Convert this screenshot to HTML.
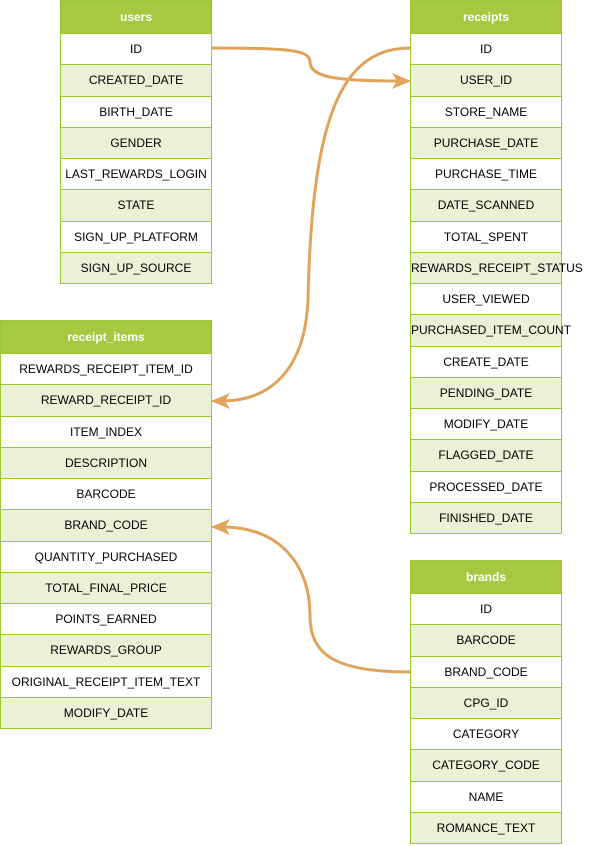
<!DOCTYPE html><html><head><style>
body{margin:0;width:602px;height:846px;background:#fff;position:relative;font-family:"Liberation Sans",Arial,sans-serif;font-size:12px;color:#000;overflow:hidden}
.t{position:absolute;width:150px;border:1px solid #9ac82e;background:#fff}
.t div{height:31.25px;line-height:31px;text-align:center;border-top:1px solid #9ac82e;box-sizing:border-box;white-space:nowrap}
.t div:nth-child(odd){background:#ebf1d6}
.t div.h{height:32px;background:#a7c942;color:#fff;font-weight:bold;border-top:none;line-height:32px}
svg{position:absolute;left:0;top:0}
</style></head><body>
<div class="t" style="left:60px;top:0">
<div class="h">users</div><div>ID</div><div>CREATED_DATE</div><div>BIRTH_DATE</div><div>GENDER</div><div>LAST_REWARDS_LOGIN</div><div>STATE</div><div>SIGN_UP_PLATFORM</div><div>SIGN_UP_SOURCE</div></div>
<div class="t" style="left:410px;top:0">
<div class="h">receipts</div><div>ID</div><div>USER_ID</div><div>STORE_NAME</div><div>PURCHASE_DATE</div><div>PURCHASE_TIME</div><div>DATE_SCANNED</div><div>TOTAL_SPENT</div><div>REWARDS_RECEIPT_STATUS</div><div>USER_VIEWED</div><div>PURCHASED_ITEM_COUNT</div><div>CREATE_DATE</div><div>PENDING_DATE</div><div>MODIFY_DATE</div><div>FLAGGED_DATE</div><div>PROCESSED_DATE</div><div>FINISHED_DATE</div></div>
<div class="t" style="left:0;top:320px;width:210px">
<div class="h">receipt_items</div><div>REWARDS_RECEIPT_ITEM_ID</div><div>REWARD_RECEIPT_ID</div><div>ITEM_INDEX</div><div>DESCRIPTION</div><div>BARCODE</div><div>BRAND_CODE</div><div>QUANTITY_PURCHASED</div><div>TOTAL_FINAL_PRICE</div><div>POINTS_EARNED</div><div>REWARDS_GROUP</div><div>ORIGINAL_RECEIPT_ITEM_TEXT</div><div>MODIFY_DATE</div></div>
<div class="t" style="left:410px;top:560px">
<div class="h">brands</div><div>ID</div><div>BARCODE</div><div>BRAND_CODE</div><div>CPG_ID</div><div>CATEGORY</div><div>CATEGORY_CODE</div><div>NAME</div><div>ROMANCE_TEXT</div></div>
<svg width="602" height="846" fill="none" stroke="#e0a35c" stroke-width="3">
<path d="M211,48 C290,48 310,50 310,62 C310,78 340,81 400,81"/>
<polygon points="411,81 392,73 397,81 392,89" fill="#e0a35c" stroke="none"/>
<path d="M410,48 C340,48 312,120 308,300 C305,370 270,401 222,401"/>
<polygon points="211,401 230,393 225,401 230,409" fill="#e0a35c" stroke="none"/>
<path d="M410,672 C335,672 310,655 310,615 C310,565 280,527 222,527"/>
<polygon points="211,527 230,519 225,527 230,535" fill="#e0a35c" stroke="none"/>
</svg>
</body></html>
